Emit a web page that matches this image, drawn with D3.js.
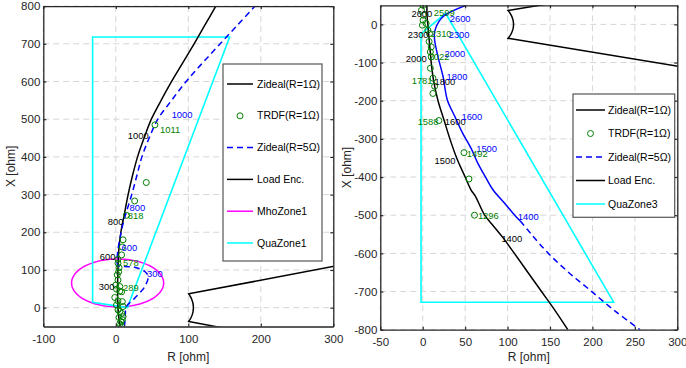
<!DOCTYPE html>
<html><head><meta charset="utf-8">
<script src="https://cdn.jsdelivr.net/npm/d3@7"></script>
<style>
html,body{margin:0;padding:0;background:#fff;}
svg{display:block;font-family:"Liberation Sans",Arial,Helvetica,sans-serif;}
</style></head>
<body>
<svg id="chart" width="686" height="368"></svg>
<script>
// ---------------- DATA ----------------
// Left panel (low frequencies)
const leftXTicks = [-100, 0, 100, 200, 300];
const leftYTicks = [0, 100, 200, 300, 400, 500, 600, 700, 800];
const zidealR1Low = [[6,-50],[4,-25],[3,0],[2.5,50],[3,100],[4,150],[7,200],[12,250],[17,300],[23,350],[30,400],[39,450],[49,500],[62.5,550],[77,600],[92.5,650],[108,700],[123,750],[138,800]];
const zidealR5Low = [[12,-50],[13,-25],[14.7,3],[26,25],[40,56],[44.6,83],[40,96],[26,107],[12,109],[3,111],[3,154],[5.5,180],[8,207],[14,250],[22,300],[29,350],[36,400],[46,450],[58,500],[77,550],[97,600],[120,650],[144,700],[168,750],[192,800]];
const trdfLow = [[54,485],[42,332],[26,283],[14.7,245],[10,180],[9,161],[8,140],[3,128],[3,118],[4.5,106],[4,95],[2,87],[3,73],[0,60],[5.5,56],[1,49],[5.5,44],[8,42],[-1.4,27],[3,18],[9,16],[1,7],[10,3],[3,-6],[5.5,-10],[8,-15],[10,-24],[4.5,-26],[7,-37],[9,-32],[5.5,-43],[8,-50]];
const labelsR1Low = [["1000",16.6,455],["800",-11,228],["600",-22,134],["300",-23.4,56]];
const labelsR5Low = [["1000",77,511],["800",19,264],["600",8,158],["300",43,89]];
const labelsTrdfLow = [["1011",61,471],["818",16.5,243],["578",10,118],["289",10,54]];
const quaZone1 = [[-32,718],[157,718],[16,0],[-32,14]];
const mhoZone1Center = [2.5, 65.5];
const mhoZone1Radius = 63.5;

// Right panel (high frequencies)
const rightXTicks = [-50, 0, 50, 100, 150, 200, 250, 300];
const rightYTicks = [-800, -700, -600, -500, -400, -300, -200, -100, 0];
const zidealR1High = [[5,50],[5,25],[6,0],[7,-25],[8,-50],[9,-75],[10,-100],[13,-150],[18,-200],[25,-250],[32,-300],[40,-350],[50,-400],[57,-434],[62,-450],[73,-500],[84,-530],[95,-560],[108,-600],[124,-650],[140,-700],[156,-750],[171,-800]];
const zidealR5High = [[51,50],[26,24],[19,7],[14,-19],[14,-41],[18,-85],[24,-137],[29,-198],[38,-242],[47,-285],[57,-325],[65,-364],[74,-400],[83,-434],[97,-470],[110,-504],[115,-515],[128,-550],[148,-600],[172,-650],[197,-696],[226,-750],[256,-800]];
const r5SolidUntilX = -515;
const trdfHigh = [[0.4,50],[-1.5,37],[1,24],[0.4,11],[4,2.6],[-0.4,-2],[6,-15],[8,-24],[7.5,-45],[10,-59],[9,-72],[10,-85],[9,-115],[12,-141],[14,-162],[12,-181],[19,-252],[48.6,-336],[54.5,-405],[61,-500]];
const labelsR1High = [["2600",-13.3,27],["2300",-17.7,-26],["2000",-20,-89],["1800",13.8,-150],["1600",26,-255],["1500",14,-357],["1400",92.7,-562]];
const labelsR5High = [["2600",31.8,16],["2300",30.6,-28],["2000",25.6,-76],["1800",28,-137],["1600",45.6,-242],["1500",63,-325],["1400",112,-505]];
const labelsTrdfHigh = [["2599",13,30],["2310",9.4,-24],["2022",7,-85],["1781",-13,-148],["1588",-6,-255],["1492",52,-340],["1296",65,-502]];
const quaZone3 = [[-2,-728],[-2,-25],[27,29],[225,-728]];

// Load encroachment characteristic (shared)
const loadEncRadius = 107;
const loadEncAngleDeg = 20;
const loadEncReach = 500;

const legendLeft = ["Zideal(R=1\u03A9)", "TRDF(R=1\u03A9)", "Zideal(R=5\u03A9)", "Load Enc.", "MhoZone1", "QuaZone1"];
const legendRight = ["Zideal(R=1\u03A9)", "TRDF(R=1\u03A9)", "Zideal(R=5\u03A9)", "Load Enc.", "QuaZone3"];

// ---------------- STYLE ----------------
const C = {black:"#000000", blue:"#0000ff", green:"#008000", magenta:"#ff00ff", cyan:"#00ffff", axis:"#262626", grid:"#d6d6d6"};

const svg = d3.select("#chart");

function loadEncPoints() {
  const a = loadEncAngleDeg * Math.PI / 180;
  const arc = d3.range(0, 41).map(i => {
    const t = a - (2 * a) * i / 40;
    return [loadEncRadius * Math.cos(t), loadEncRadius * Math.sin(t)];
  });
  const top = [loadEncReach * Math.cos(a), loadEncReach * Math.sin(a)];
  const bot = [loadEncReach * Math.cos(a), -loadEncReach * Math.sin(a)];
  return [top].concat(arc, [bot]);
}

function circlePoints(c, r) {
  return d3.range(0, 361, 3).map(d => [c[0] + r * Math.cos(d * Math.PI / 180), c[1] + r * Math.sin(d * Math.PI / 180)]);
}

function panel(o) {
  const x = d3.scaleLinear().domain(o.xDom).range([o.x0, o.x1]);
  const y = d3.scaleLinear().domain(o.yDom).range([o.y1, o.y0]);
  const g = svg.append("g");
  const clipId = "clip-" + o.id;
  svg.append("clipPath").attr("id", clipId).append("rect")
    .attr("x", o.x0).attr("y", o.y0).attr("width", o.x1 - o.x0).attr("height", o.y1 - o.y0);

  // grid
  const grid = g.append("g").attr("stroke", C.grid).attr("stroke-width", 1).attr("stroke-dasharray", "6,4");
  grid.selectAll("line.gx").data(o.xTicks).join("line")
    .attr("x1", d => x(d)).attr("x2", d => x(d)).attr("y1", o.y0).attr("y2", o.y1);
  grid.selectAll("line.gy").data(o.yTicks).join("line")
    .attr("y1", d => y(d)).attr("y2", d => y(d)).attr("x1", o.x0).attr("x2", o.x1);

  const plot = g.append("g").attr("clip-path", `url(#${clipId})`);
  const line = d3.line().x(d => x(d[0])).y(d => y(d[1]));
  const smooth = d3.line().x(d => x(d[0])).y(d => y(d[1])).curve(d3.curveCatmullRom.alpha(0.5));

  // zones
  if (o.mho) {
    plot.append("path").attr("d", line(circlePoints(o.mho.c, o.mho.r)))
      .attr("fill", "none").attr("stroke", C.magenta).attr("stroke-width", 1.5);
  }
  plot.append("path").attr("d", line(o.quad) + "Z")
    .attr("fill", "none").attr("stroke", C.cyan).attr("stroke-width", 1.6);
  // load enc
  plot.append("path").attr("d", line(loadEncPoints()))
    .attr("fill", "none").attr("stroke", C.black).attr("stroke-width", 1.5);

  // Zideal R=1
  plot.append("path").attr("d", smooth(o.r1)).attr("fill", "none")
    .attr("stroke", C.black).attr("stroke-width", 1.5);
  // Zideal R=5
  if (o.r5SolidUntil !== undefined) {
    plot.append("path").attr("d", smooth(o.r5.filter(d => d[1] >= o.r5SolidUntil))).attr("fill", "none")
      .attr("stroke", C.blue).attr("stroke-width", 1.5);
    plot.append("path").attr("d", smooth(o.r5.filter(d => d[1] <= o.r5SolidUntil))).attr("fill", "none")
      .attr("stroke", C.blue).attr("stroke-width", 1.5).attr("stroke-dasharray", "6,4");
  } else {
    plot.append("path").attr("d", smooth(o.r5)).attr("fill", "none")
      .attr("stroke", C.blue).attr("stroke-width", 1.5).attr("stroke-dasharray", "6,4");
  }
  // TRDF circles
  plot.selectAll("circle.trdf").data(o.trdf).join("circle")
    .attr("cx", d => x(d[0])).attr("cy", d => y(d[1])).attr("r", 3)
    .attr("fill", "none").attr("stroke", C.green).attr("stroke-width", 1);

  // labels
  const lab = g.append("g").attr("font-size", 9.4);
  [[o.labR1, C.black], [o.labR5, C.blue], [o.labTrdf, C.green]].forEach(([arr, col]) => {
    lab.append("g").selectAll("text").data(arr).join("text")
      .attr("x", d => x(d[1])).attr("y", d => y(d[2])).attr("dy", "0.35em")
      .attr("fill", col).text(d => d[0]);
  });

  // axes
  const fmt = d => String(d);
  const styleAxis = (sel) => {
    sel.selectAll(".domain").attr("stroke", C.axis).attr("stroke-width", 1.3);
    sel.selectAll(".tick line").attr("stroke", C.axis).attr("stroke-width", 1.2);
    sel.selectAll(".tick text").attr("fill", C.axis).attr("font-size", 11.5)
      .attr("font-family", "Liberation Sans, Arial, sans-serif");
  };
  const ax = g.append("g").attr("transform", `translate(0,${o.y1})`)
    .call(d3.axisBottom(x).tickValues(o.xTicks).tickFormat(fmt).tickSizeInner(-3).tickSizeOuter(0).tickPadding(8.5));
  styleAxis(ax);
  const ay = g.append("g").attr("transform", `translate(${o.x0},0)`)
    .call(d3.axisLeft(y).tickValues(o.yTicks).tickFormat(fmt).tickSizeInner(-3).tickSizeOuter(0).tickPadding(3));
  styleAxis(ay);
  const at = g.append("g").attr("transform", `translate(0,${o.y0})`)
    .call(d3.axisTop(x).tickValues(o.xTicks).tickFormat("").tickSizeInner(-3).tickSizeOuter(0));
  styleAxis(at);
  const ar = g.append("g").attr("transform", `translate(${o.x1},0)`)
    .call(d3.axisRight(y).tickValues(o.yTicks).tickFormat("").tickSizeInner(-3).tickSizeOuter(0));
  styleAxis(ar);

  // axis titles
  g.append("text").attr("x", (o.x0 + o.x1) / 2).attr("y", 361).attr("text-anchor", "middle")
    .attr("font-size", 12).attr("fill", C.axis).text("R [ohm]");
  g.append("text").attr("transform", `translate(${o.ylabX},${(o.y0 + o.y1) / 2}) rotate(-90)`)
    .attr("text-anchor", "middle").attr("dy", "0.35em")
    .attr("font-size", 12).attr("fill", C.axis).text("X [ohm]");

  // legend
  const L = o.legend;
  const lg = g.append("g");
  lg.append("rect").attr("x", L.x0).attr("y", L.y0).attr("width", L.x1 - L.x0).attr("height", L.y1 - L.y0)
    .attr("fill", "#fff").attr("stroke", "#555").attr("stroke-width", 1.2);
  const styles = o.legendStyles;
  L.items.forEach((name, i) => {
    const yy = L.firstY + i * L.step;
    const s = styles[i];
    if (s.type === "circle") {
      lg.append("circle").attr("cx", (L.s0 + L.s1) / 2).attr("cy", yy).attr("r", 3)
        .attr("fill", "none").attr("stroke", s.color).attr("stroke-width", 1);
    } else {
      lg.append("line").attr("x1", L.s0).attr("x2", L.s1).attr("y1", yy).attr("y2", yy)
        .attr("stroke", s.color).attr("stroke-width", 1.5).attr("stroke-dasharray", s.dash || null);
    }
    lg.append("text").attr("x", L.tx).attr("y", yy).attr("dy", "0.35em")
      .attr("font-size", 10.5).attr("fill", "#000").text(name);
  });
}

panel({
  id: "left", xDom: [-100, 300], yDom: [-50, 800],
  x0: 43.3, x1: 333.3, y0: 6.1, y1: 326.5,
  xTicks: leftXTicks, yTicks: leftYTicks,
  r1: zidealR1Low, r5: zidealR5Low, trdf: trdfLow,
  labR1: labelsR1Low, labR5: labelsR5Low, labTrdf: labelsTrdfLow,
  quad: quaZone1, mho: {c: mhoZone1Center, r: mhoZone1Radius},
  ylabX: 11,
  legend: {x0: 223, y0: 64, x1: 322, y1: 261, firstY: 84, step: 31.8, s0: 227, s1: 253, tx: 257, items: legendLeft},
  legendStyles: [{color: C.black}, {type: "circle", color: C.green}, {color: C.blue, dash: "6,4"}, {color: C.black}, {color: C.magenta}, {color: C.cyan}]
});

panel({
  id: "right", xDom: [-50, 300], yDom: [-800, 50],
  x0: 380.3, x1: 677.3, y0: 5.3, y1: 329.7,
  xTicks: rightXTicks, yTicks: rightYTicks,
  r1: zidealR1High, r5: zidealR5High, r5SolidUntil: r5SolidUntilX, trdf: trdfHigh,
  labR1: labelsR1High, labR5: labelsR5High, labTrdf: labelsTrdfHigh,
  quad: quaZone3, mho: null,
  ylabX: 347,
  legend: {x0: 573, y0: 94, x1: 674.7, y1: 217.3, firstY: 110, step: 23.5, s0: 576, s1: 605, tx: 608, items: legendRight},
  legendStyles: [{color: C.black}, {type: "circle", color: C.green}, {color: C.blue, dash: "6,4"}, {color: C.black}, {color: C.cyan}]
});
</script>
</body></html>
